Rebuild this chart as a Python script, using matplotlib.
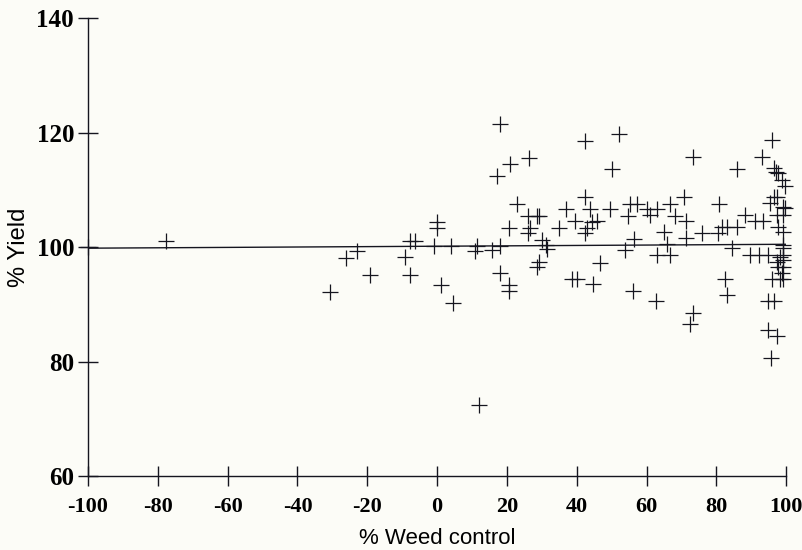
import matplotlib
matplotlib.use("Agg")
import matplotlib.pyplot as plt
import numpy as np

plt.rcParams['axes.unicode_minus'] = False

# % weed control vs % yield
weed_control = [-100, -77.8, -30.8, -26.1, -22.8, -19.2, -9.1, -7.7, -6.3, -7.7,
                -1.0, 3.9, 0.1, 0.1, 1.2, 4.5, 11.4, 11.0, 12.1, 15.7,
                17.9, 17.9, 17.3, 20.9, 26.2, 22.8, 20.6, 17.9, 20.7, 20.7,
                26.0, 28.5, 29.3, 26.6, 26.0, 30.2, 31.2, 31.6, 29.1, 28.5,
                35.0, 37.0, 39.5, 42.4, 42.4, 43.8, 42.4, 42.9, 44.3, 45.8,
                38.6, 40.0, 44.6, 46.7, 49.6, 50.0, 52.0, 53.8, 54.8, 55.3,
                57.4, 56.3, 56.0, 60.1, 61.0, 63.0, 62.6, 62.9, 66.6, 64.9,
                65.8, 66.8, 68.3, 70.7, 71.2, 71.2, 72.4, 73.4, 73.2, 75.9,
                80.5, 80.9, 81.5, 83.2, 82.5, 83.2, 84.5, 86.0, 86.0, 88.2,
                89.7, 91.1, 92.3, 93.4, 93.0, 94.9, 94.9, 94.9, 95.9, 95.9,
                95.7, 95.4, 96.4, 96.6, 96.4, 97.1, 97.3, 97.3, 97.3, 97.5,
                97.8, 97.8, 97.8, 98.3, 98.3, 98.8, 98.8, 99.0, 99.2, 99.2,
                99.2, 99.2, 99.2, 99.2, 99.2, 99.2, 99.7, 99.7]
yield_pct = [100.0, 101.0, 92.2, 98.1, 99.4, 95.2, 98.3, 101.1, 101.1, 95.2,
             100.2, 100.2, 104.4, 103.4, 93.4, 90.3, 100.2, 99.4, 72.4, 99.5,
             100.2, 121.5, 112.5, 114.6, 115.5, 107.5, 103.4, 95.4, 93.4, 92.4,
             105.4, 105.4, 105.4, 103.4, 102.4, 101.3, 100.4, 99.6, 97.4, 96.6,
             103.4, 106.6, 104.6, 108.7, 118.6, 106.6, 102.4, 103.4, 104.3, 104.6,
             94.4, 94.4, 93.5, 97.3, 106.6, 113.6, 119.7, 99.5, 105.4, 107.5,
             107.5, 101.5, 92.4, 106.7, 105.6, 106.6, 90.6, 98.7, 98.7, 102.6,
             100.5, 107.6, 105.5, 108.7, 104.6, 101.6, 86.6, 88.5, 115.7, 102.5,
             102.5, 107.6, 103.5, 103.5, 94.5, 91.6, 99.8, 103.5, 113.7, 105.6,
             98.7, 104.6, 98.7, 104.6, 115.8, 98.6, 90.6, 85.5, 118.7, 94.5,
             80.7, 107.7, 108.8, 90.6, 113.8, 113.2, 108.7, 105.6, 97.4, 84.5,
             112.9, 103.5, 96.6, 98.3, 94.5, 111.7, 95.4, 94.5, 107.0, 105.6,
             102.7, 100.4, 99.8, 98.6, 97.7, 96.6, 110.7, 106.8]

# fitted line
fit_intercept = 100.15
fit_slope = 0.0034

x_ticks = [-100, -80, -60, -40, -20, 0, 20, 40, 60, 80, 100]
y_ticks = [60, 80, 100, 120, 140]

bg = '#fcfcf7'
ink = '#15151f'

fig = plt.figure(figsize=(8.03, 5.5), dpi=100, facecolor=bg)
ax = fig.add_axes([0.1096, 0.1345, 0.8694, 0.8325])
ax.set_facecolor(bg)

ax.plot(weed_control, yield_pct, linestyle='none', marker='+', markersize=12,
        markeredgewidth=0.9, color=ink, clip_on=False, zorder=3)

fx = np.array([-100, 100])
ax.plot(fx, fit_intercept + fit_slope * fx, color=ink, linewidth=1.0, zorder=2)

ax.set_xlim(-100, 100)
ax.set_ylim(60, 140)
ax.set_xticks(x_ticks)
ax.set_yticks(y_ticks)

for s in ['top', 'right']:
    ax.spines[s].set_visible(False)
for s in ['left', 'bottom']:
    ax.spines[s].set_color(ink)
    ax.spines[s].set_linewidth(1.0)

ax.tick_params(axis='both', direction='inout', length=14, width=1.0, color=ink)
ax.tick_params(axis='x', pad=8)
ax.tick_params(axis='y', pad=3)

for lab in ax.get_xticklabels():
    lab.set_family(['Liberation Serif', 'DejaVu Serif'])
    lab.set_fontweight('bold')
    lab.set_fontsize(16)
for lab in ax.get_yticklabels():
    lab.set_family(['Liberation Serif', 'DejaVu Serif'])
    lab.set_fontweight('bold')
    lab.set_fontsize(18)

ax.set_xlabel('% Weed control', fontsize=16, family=['Liberation Sans', 'DejaVu Sans'],
              labelpad=8)
ax.set_ylabel('% Yield', fontsize=17, family=['Liberation Sans', 'DejaVu Sans'],
              labelpad=5)

fig.savefig('out.png', dpi=100, facecolor=bg)
